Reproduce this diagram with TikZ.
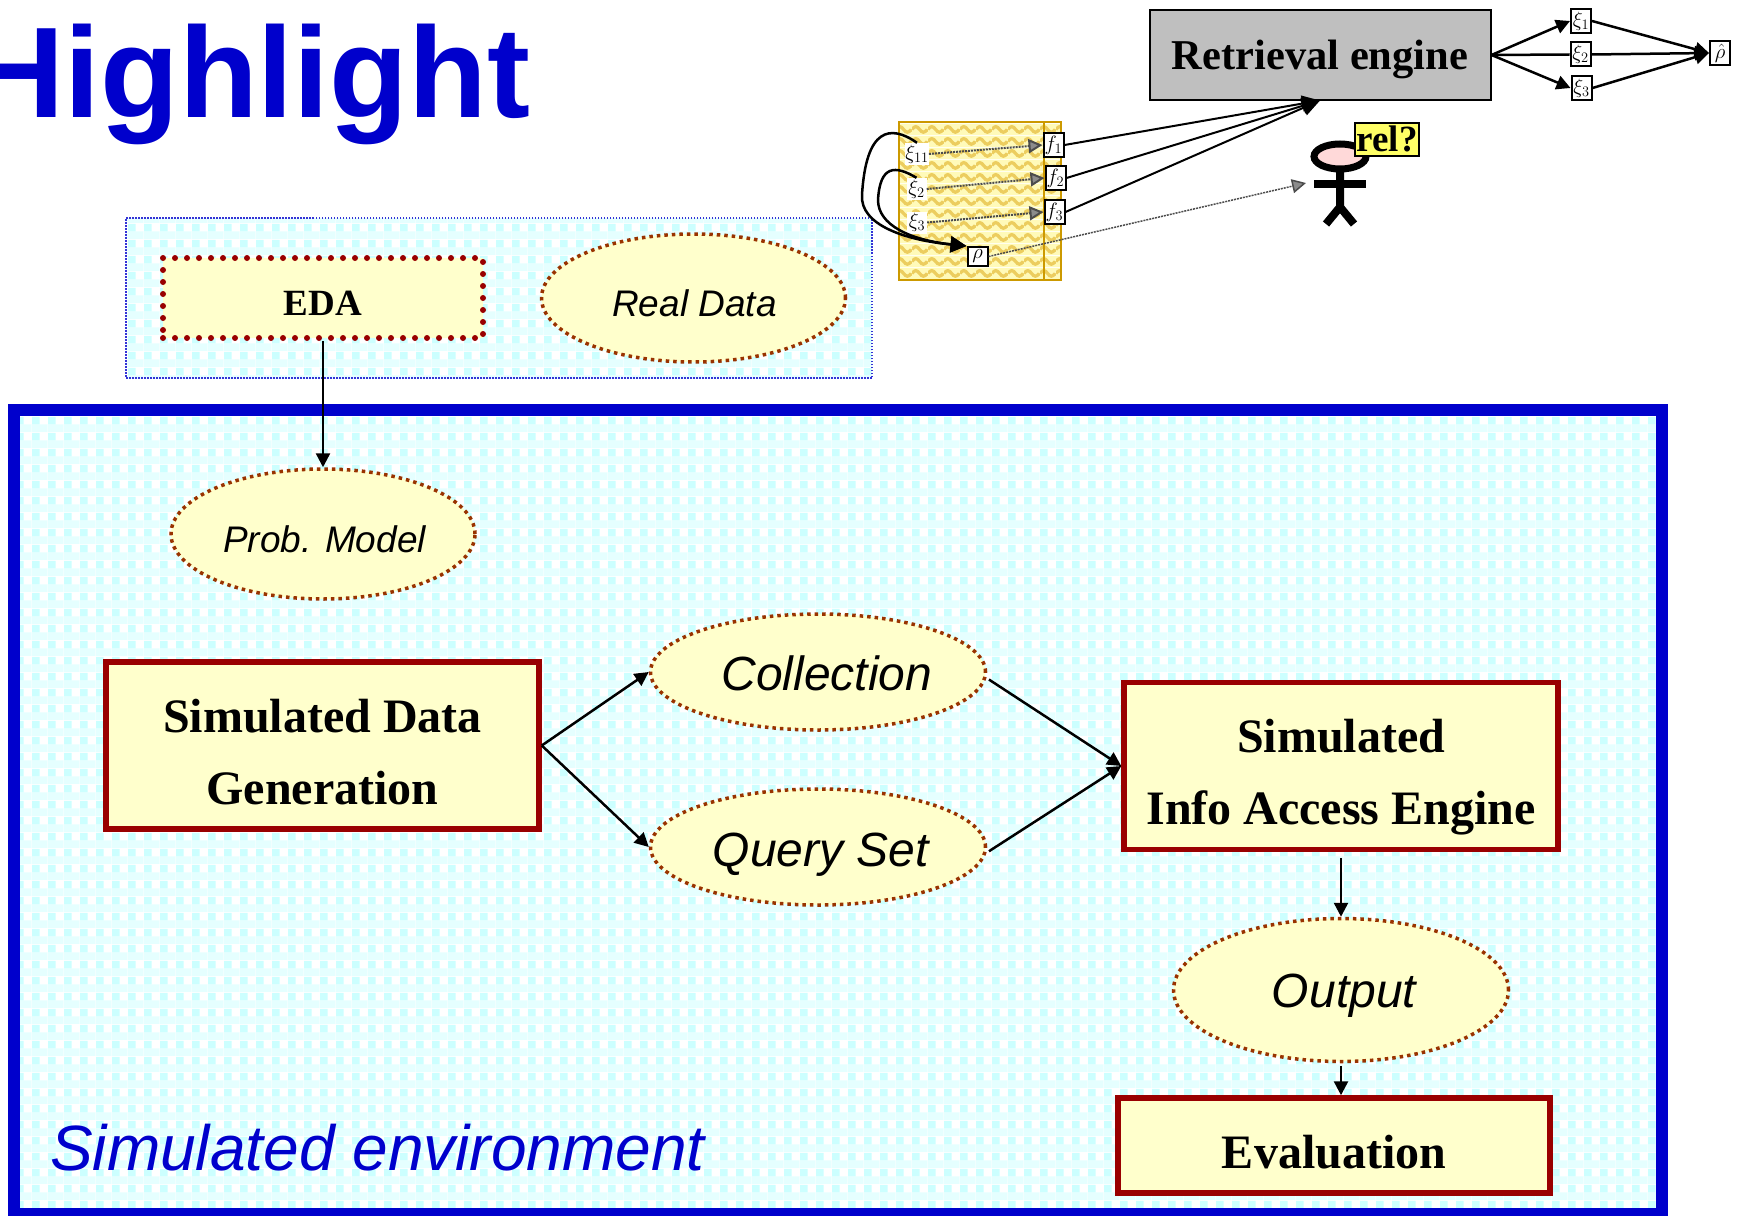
\documentclass[tikz,border=0pt]{standalone}
\usepackage{amsmath}
\usepackage{fontspec}
\setmainfont{Liberation Serif}
\setsansfont{Liberation Sans}
\usetikzlibrary{shapes,arrows.meta,positioning,patterns}
\definecolor{titleblue}{RGB}{0,0,204}
\definecolor{boxred}{RGB}{153,0,0}
\definecolor{boxfill}{RGB}{255,255,204}
\definecolor{dotbrown}{RGB}{153,51,0}
\definecolor{checkcyan}{RGB}{204,255,255}
\definecolor{checklight}{RGB}{229,255,255}
\definecolor{wavegold}{RGB}{236,205,95}
\definecolor{wavefill}{RGB}{255,250,185}
\definecolor{framegold}{RGB}{204,153,0}
\definecolor{relyellow}{RGB}{255,255,102}

\pgfdeclarepatterninherentlycolored{cyancheck}{\pgfpoint{0pt}{0pt}}{\pgfpoint{16pt}{16pt}}{\pgfpoint{16pt}{16pt}}{
  \pgfsetfillcolor{white}
  \pgfpathrectangle{\pgfpoint{0pt}{0pt}}{\pgfpoint{16pt}{16pt}}
  \pgfusepath{fill}
  \pgfsetfillcolor{checklight}
  \pgfpathrectangle{\pgfpoint{0pt}{0pt}}{\pgfpoint{16pt}{8pt}}
  \pgfusepath{fill}
  \pgfsetfillcolor{checkcyan}
  \pgfpathrectangle{\pgfpoint{0pt}{8pt}}{\pgfpoint{8pt}{8pt}}
  \pgfusepath{fill}
}
\pgfdeclarepatterninherentlycolored{goldwave}{\pgfpoint{0pt}{0pt}}{\pgfpoint{16pt}{12pt}}{\pgfpoint{16pt}{12pt}}{
  \pgfsetfillcolor{wavefill}
  \pgfpathrectangle{\pgfpoint{0pt}{0pt}}{\pgfpoint{16pt}{12pt}}
  \pgfusepath{fill}
  \pgfsetstrokecolor{wavegold}
  \pgfsetlinewidth{3.5pt}
  \pgfpathmoveto{\pgfpoint{0pt}{6pt}}
  \pgfpathcurveto{\pgfpoint{3pt}{10pt}}{\pgfpoint{5pt}{10pt}}{\pgfpoint{8pt}{6pt}}
  \pgfpathcurveto{\pgfpoint{11pt}{2pt}}{\pgfpoint{13pt}{2pt}}{\pgfpoint{16pt}{6pt}}
  \pgfusepath{stroke}
}
% text set lower in its node, the node itself stays put
\newcommand{\low}[2]{\raisebox{-#1}[\height][\depth]{#2}}

\begin{document}
\begin{tikzpicture}[x=1pt, y=-1pt,
    process/.style={rectangle, draw=boxred, line width=5.5pt, fill=boxfill, inner sep=0pt,
                    align=center, font=\fontsize{48}{72}\selectfont\bfseries},
    data/.style={ellipse, draw=dotbrown, line width=3.5pt, dash pattern=on 3.5pt off 4pt, fill=boxfill,
                 inner sep=0pt, font=\fontsize{48}{58}\selectfont\sffamily\itshape},
    small/.style={rectangle, draw=black, line width=2pt, fill=white, inner sep=0pt,
                  minimum width=20pt, minimum height=24pt, font=\fontsize{20}{20}\selectfont},
    xilabel/.style={rectangle, fill=white, inner sep=0pt, minimum width=20pt, minimum height=22pt,
                    font=\fontsize{20}{20}\selectfont},
    flow/.style={-{Triangle[length=14pt, width=14pt]}, line width=2.5pt},
    hazy/.style={-{Triangle[length=14pt, width=14pt, fill=black!45]}, draw=black!70, line width=2pt,
                 dash pattern=on 2pt off 1pt}
]
\useasboundingbox (0,0) rectangle (1747,1215);

% Title
\node[anchor=base west, inner sep=0pt, text=titleblue, font=\fontsize{129}{129}\selectfont\sffamily\bfseries]
    (title) at (-29,117) {Highlight};

% Backgrounds
\node[rectangle, draw=titleblue!80!white, line width=1.5pt, dash pattern=on 1.5pt off 1.5pt, pattern=cyancheck,
      minimum width=746pt, minimum height=160pt, inner sep=0pt] (realbox) at (499,298) {};
\node[rectangle, draw=titleblue, line width=12pt, pattern=cyancheck,
      minimum width=1648pt, minimum height=804pt, inner sep=0pt] (simbox) at (838,812) {};
\node[anchor=base west, inner sep=0pt, text=titleblue, font=\fontsize{64}{64}\selectfont\sffamily\itshape]
    (simlabel) at (50,1170) {Simulated environment};

% Real data row
\node[process, line width=6pt, dash pattern=on 0pt off 12pt, line cap=round, minimum width=320pt, minimum height=80pt,
      font=\fontsize{37}{37}\selectfont\bfseries] (eda) at (323,298) {\low{5pt}{EDA}};
\node[data, minimum width=304pt, minimum height=128pt, font=\fontsize{37}{37}\selectfont\sffamily\itshape]
    (real) at (693.5,298) {\low{5pt}{\hspace*{2pt}Real Data}};

% Simulated environment
\node[data, minimum width=304pt, minimum height=130pt, font=\fontsize{37}{37}\selectfont\sffamily\itshape]
    (prob) at (323,534) {\low{5pt}{\hspace*{3pt}Prob. Model}};
\node[process, minimum width=433pt, minimum height=167pt] (simdata) at (322.5,745.5) {\low{7pt}{Simulated Data}\\\low{7pt}{Generation}};
\node[data, minimum width=335pt, minimum height=116pt] (collection) at (818,672) {\low{1pt}{\hspace*{18pt}Collection}};
\node[data, minimum width=335pt, minimum height=116pt] (queryset) at (818,847) {\low{8pt}{\hspace*{6pt}Query Set}};
\node[process, minimum width=434pt, minimum height=167pt] (engine) at (1341,766) {\low{11pt}{Simulated}\\\low{11pt}{Info Access Engine}};
\node[data, minimum width=335pt, minimum height=143pt] (output) at (1341,990) {\low{6pt}{\hspace*{6pt}Output}};
\node[process, minimum width=432pt, minimum height=95pt] (evaluation) at (1334,1145.5) {\low{7pt}{Evaluation}};

% Connections
\draw[flow] (eda.south) -- (prob.north);
\draw[flow] (simdata.east) -- (collection.west);
\draw[flow] (simdata.east) -- (queryset.west);
\draw[flow, shorten <=3pt] (collection.-2.5) -- (engine.west);
\draw[flow, shorten <=3pt] (queryset.-2.5) -- (engine.west);
\draw[flow, shorten <=6pt] (engine.south) -- (output.north);
\draw[flow, shorten <=3pt] (output.south) -- (output.south |- evaluation.north);

% Small model
\node[rectangle, draw=framegold, line width=2.5pt, pattern=goldwave, minimum width=162pt, minimum height=158pt,
      inner sep=0pt] (outerwave) at (980,201) {};
\node[rectangle, draw=framegold, line width=2.5pt, pattern=goldwave, minimum width=145pt, minimum height=158pt,
      inner sep=0pt] (innerwave) at (971.5,201) {};
\node[xilabel] (xia) at (917,154) {$\xi_{11}$};
\node[xilabel] (xib) at (916.5,189) {$\xi_{2}$};
\node[xilabel] (xic) at (917,222.5) {$\xi_{3}$};
\node[small] (fa) at (1053.5,145) {$f_1$};
\node[small] (fb) at (1055.5,178) {$f_2$};
\node[small] (fc) at (1054.5,212) {$f_3$};
\node[small, minimum height=19pt] (rho) at (977.5,256.5) {$\rho$};

% Retrieval engine and estimates
\node[rectangle, draw=black, line width=2pt, fill=black!25, inner sep=0pt, minimum width=341pt, minimum height=89pt,
      font=\fontsize{42.5}{42.5}\selectfont\bfseries] (retrieval) at (1320,55) {\low{4pt}{Retrieval engine}};
\node[small] (xione) at (1581,21) {$\xi_1$};
\node[small] (xitwo) at (1580.5,54.5) {$\xi_2$};
\node[small] (xithree) at (1581.5,88) {$\xi_3$};
\node[small] (rhohat) at (1720,53) {$\hat{\rho}$};

% Person
\draw[line width=8pt] (1340,170) -- (1340,207) -- (1326,224);
\draw[line width=8pt] (1340,207) -- (1354,224);
\draw[line width=8pt] (1314,184) -- (1366,184);
\node[ellipse, draw=black, line width=7pt, fill=red!15, inner sep=0pt, minimum width=52pt, minimum height=25pt]
    (head) at (1340,156.5) {};
\node[rectangle, draw=black, line width=2pt, fill=relyellow, inner sep=0pt, minimum width=64pt, minimum height=33pt,
      font=\fontsize{37}{37}\selectfont\bfseries] (rel) at (1387,139) {rel?};
\coordinate (eye) at (1306,183);

% Model connections
\draw[flow, -{Triangle[length=16pt, width=16pt]}] (xia.north) .. controls (890,124) and (866,128) .. (862,195)
    .. controls (860,225) and (905,240) .. (rho.north west);
\draw[flow, -{Triangle[length=16pt, width=16pt]}] (xib.north) .. controls (895,165) and (880,165) .. (878,200)
    .. controls (878,225) and (910,240) .. (rho.north west);
\draw[hazy] (xia.east) -- (fa.west);
\draw[hazy] (xib.east) -- (fb.west);
\draw[hazy] (xic.east) -- (fc.west);
\draw[hazy, line width=1.5pt] (rho.east) -- (eye);
\draw[flow, line width=2pt, -{Triangle[length=18pt, width=16pt]}] (fa.east) -- (retrieval.south);
\draw[flow, line width=2pt, -{Triangle[length=18pt, width=16pt]}] (fb.east) -- (retrieval.south);
\draw[flow, line width=2pt, -{Triangle[length=18pt, width=16pt]}] (fc.east) -- (retrieval.south);
\draw[flow] (retrieval.east) -- (xione.west);
\draw[line width=2.5pt] (retrieval.east) -- (xitwo.west);
\draw[flow] (retrieval.east) -- (xithree.west);
\draw[flow] (xione.east) -- (rhohat.west);
\draw[flow] (xitwo.east) -- (rhohat.west);
\draw[flow] (xithree.east) -- (rhohat.west);

\end{tikzpicture}
\end{document}
